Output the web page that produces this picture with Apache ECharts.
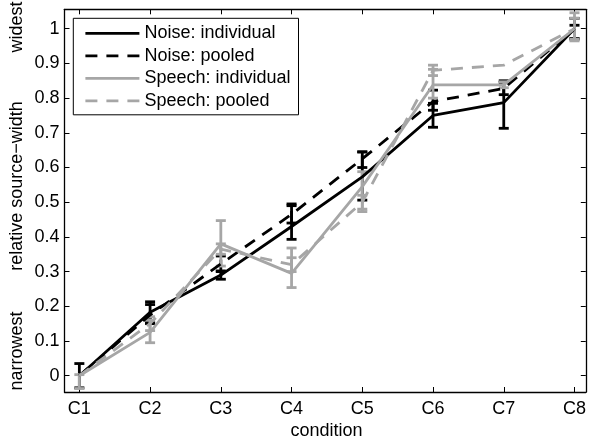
<!DOCTYPE html>
<html>
<head>
<meta charset="utf-8">
<script src="https://cdn.jsdelivr.net/npm/echarts@6/dist/echarts.min.js"></script>
<style>
html,body{margin:0;padding:0;background:#fff;}
#c{width:589px;height:441px;}
</style>
</head>
<body>
<div id="c"></div>
<script>
// ---- data ----
var conditions = ['C1','C2','C3','C4','C5','C6','C7','C8'];
var xVals = [1,2,3,4,5,6,7,8];
var yTicks = [0,0.1,0.2,0.3,0.4,0.5,0.6,0.7,0.8,0.9,1];

var noiseInd   = [0, 0.183, 0.29, 0.43, 0.573, 0.75, 0.787, 1.0];
var noiseIndLo = [-0.035, 0.153, 0.278, 0.393, 0.506, 0.716, 0.713, 0.97];
var noiseIndHi = [0.035, 0.213, 0.302, 0.495, 0.645, 0.785, 0.85, 1.03];

var noisePool   = [0, 0.175, 0.322, 0.465, 0.625, 0.79, 0.828, 1.0];
var noisePoolLo = [0, 0.15, 0.30, 0.44, 0.60, 0.765, 0.81, 0.972];
var noisePoolHi = [0, 0.205, 0.345, 0.49, 0.645, 0.823, 0.845, 1.01];

var speechInd   = [0, 0.125, 0.38, 0.295, 0.545, 0.838, 0.838, 1.0];
var speechIndLo = [-0.037, 0.095, 0.316, 0.254, 0.473, 0.80, 0.83, 0.965];
var speechIndHi = [0.003, 0.16, 0.447, 0.368, 0.588, 0.883, 0.847, 1.046];

var speechPool   = [0, 0.15, 0.365, 0.32, 0.50, 0.88, 0.895, 1.0];
var speechPoolLo = [0, 0.13, 0.35, 0.30, 0.48, 0.865, 0.895, 0.97];
var speechPoolHi = [0, 0.17, 0.38, 0.34, 0.52, 0.895, 0.895, 1.03];

var names = ['Noise: individual','Noise: pooled','Speech: individual','Speech: pooled'];

// ---- styles ----
var BLACK = '#000000', GRAY = '#a6a6a6';
var FONT = "'Liberation Sans', Arial, Helvetica, sans-serif";
var DASH = [12, 9];
var LW = 2.8;

function lineSeries(name, vals, color, dashed) {
  return {
    type: 'line', name: name,
    data: vals.map(function (v, i) { return [xVals[i], v]; }),
    symbol: 'none', showSymbol: false, silent: true,
    lineStyle: { color: color, width: LW, type: dashed ? DASH : 'solid' },
    itemStyle: { color: color },
    animation: false
  };
}
function errSeries(name, lo, hi, color, dashed) {
  return {
    type: 'custom', name: name + ' err', silent: true, animation: false,
    data: lo.map(function (l, i) { return [xVals[i], l, hi[i]]; }),
    encode: { x: 0, y: [1, 2] },
    renderItem: function (params, api) {
      var x = api.value(0);
      if (api.value(1) === api.value(2)) { return null; }
      var a = api.coord([x, api.value(1)]);
      var b = api.coord([x, api.value(2)]);
      var hw = 5;
      function st() { return { stroke: color, lineWidth: LW, lineDash: dashed ? DASH : null, fill: null }; }
      return { type: 'group', children: [
        { type: 'line', shape: { x1: a[0], y1: a[1], x2: b[0], y2: b[1] }, style: st() },
        { type: 'line', shape: { x1: a[0] - hw, y1: a[1], x2: a[0] + hw, y2: a[1] }, style: st() },
        { type: 'line', shape: { x1: b[0] - hw, y1: b[1], x2: b[0] + hw, y2: b[1] }, style: st() }
      ]};
    }
  };
}

function fmtY(v) { return String(Math.round(v * 10) / 10); }

var axisLineStyle = { show: true, onZero: false, lineStyle: { color: '#000', width: 1.3 } };
var tickStyle = { show: true, inside: true, length: 5, lineStyle: { color: '#000', width: 1 } };

var chart = echarts.init(document.getElementById('c'), null, { renderer: 'canvas' });
chart.setOption({
  animation: false,
  backgroundColor: '#fff',
  grid: { left: 64.5, top: 9.3, right: 0.5, bottom: 49, containLabel: false },
  xAxis: [
    { type: 'value', position: 'bottom', min: 0.79, max: 8.16,
      axisLine: axisLineStyle,
      axisTick: Object.assign({}, tickStyle, { customValues: xVals }),
      axisLabel: { customValues: xVals, formatter: function (v) { return conditions[Math.round(v) - 1]; },
                   color: '#000', fontSize: 18, fontFamily: FONT, margin: 8 },
      splitLine: { show: false } },
    { type: 'value', position: 'top', min: 0.79, max: 8.16,
      axisLine: axisLineStyle,
      axisTick: Object.assign({}, tickStyle, { customValues: xVals }),
      axisLabel: { show: false }, splitLine: { show: false } }
  ],
  yAxis: [
    { type: 'value', position: 'left', min: -0.047, max: 1.056,
      axisLine: axisLineStyle,
      axisTick: Object.assign({}, tickStyle, { customValues: yTicks }),
      axisLabel: { customValues: yTicks, formatter: fmtY, color: '#000', fontSize: 18, fontFamily: FONT, margin: 5 },
      splitLine: { show: false } },
    { type: 'value', position: 'right', min: -0.047, max: 1.056,
      axisLine: axisLineStyle,
      axisTick: Object.assign({}, tickStyle, { customValues: yTicks }),
      axisLabel: { show: false }, splitLine: { show: false } }
  ],
  legend: {
    data: names, orient: 'vertical', left: 73.3, top: 18.3,
    itemWidth: 54, itemHeight: 14, itemGap: 4.5,
    padding: [6, 8, 5, 10.7],
    borderColor: '#000', borderWidth: 1, backgroundColor: '#fff',
    selectedMode: false,
    itemStyle: { opacity: 0 },
    lineStyle: { width: LW },
    textStyle: { fontSize: 18, fontFamily: FONT, color: '#000', lineHeight: 18 }
  },
  graphic: [
    { type: 'text', x: 326.5, y: 431, silent: true,
      style: { text: 'condition', textAlign: 'center', textVerticalAlign: 'middle', fontSize: 18, fontFamily: FONT, fill: '#000' } },
    { type: 'text', x: 17, y: 186, rotation: Math.PI / 2, silent: true,
      style: { text: 'relative source\u2212width', textAlign: 'center', textVerticalAlign: 'middle', fontSize: 18, fontFamily: FONT, fill: '#000' } },
    { type: 'text', x: 17, y: 27, rotation: Math.PI / 2, silent: true,
      style: { text: 'widest', textAlign: 'center', textVerticalAlign: 'middle', fontSize: 18, fontFamily: FONT, fill: '#000' } },
    { type: 'text', x: 17, y: 351, rotation: Math.PI / 2, silent: true,
      style: { text: 'narrowest', textAlign: 'center', textVerticalAlign: 'middle', fontSize: 18, fontFamily: FONT, fill: '#000' } }
  ],
  series: [
    lineSeries(names[0], noiseInd, BLACK, false),
    errSeries(names[0], noiseIndLo, noiseIndHi, BLACK, false),
    lineSeries(names[1], noisePool, BLACK, true),
    errSeries(names[1], noisePoolLo, noisePoolHi, BLACK, true),
    lineSeries(names[2], speechInd, GRAY, false),
    errSeries(names[2], speechIndLo, speechIndHi, GRAY, false),
    lineSeries(names[3], speechPool, GRAY, true),
    errSeries(names[3], speechPoolLo, speechPoolHi, GRAY, true)
  ]
});
</script>
</body>
</html>
